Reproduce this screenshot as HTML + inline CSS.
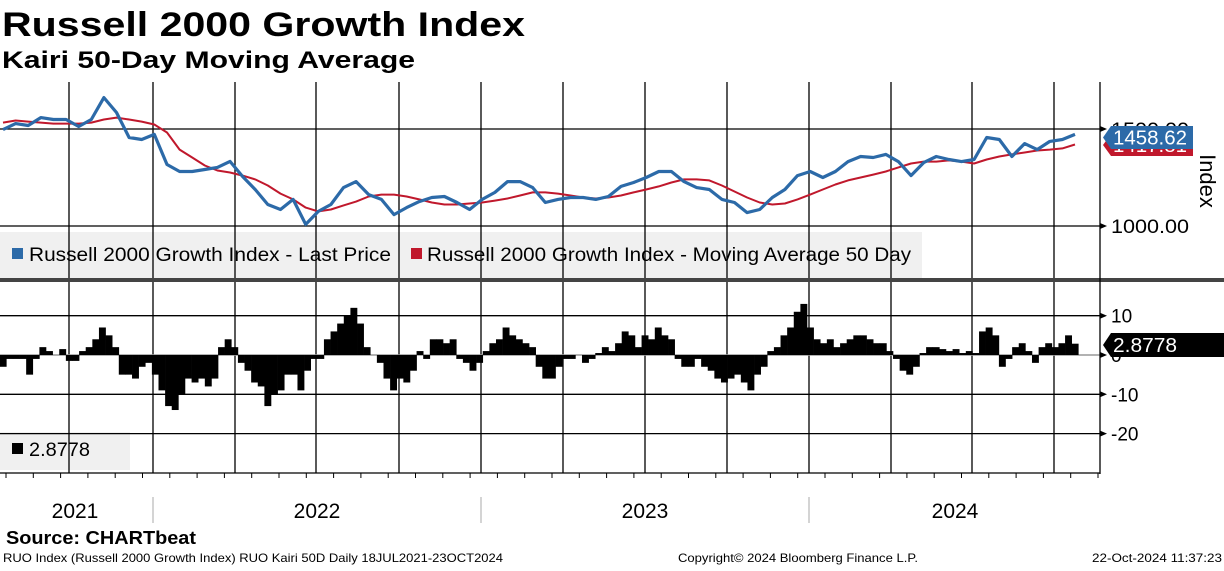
<!DOCTYPE html>
<html><head><meta charset="utf-8">
<style>
body{margin:0;background:#fff;width:1224px;height:566px;overflow:hidden;font-family:"Liberation Sans",sans-serif}
svg text{font-family:"Liberation Sans",sans-serif}
</style></head>
<body>
<svg id="c" width="1224" height="566" xmlns="http://www.w3.org/2000/svg">
<text x="2" y="36" font-size="34" font-weight="bold" textLength="523" lengthAdjust="spacingAndGlyphs">Russell 2000 Growth Index</text>
<text x="2" y="68" font-size="24" font-weight="bold" textLength="413" lengthAdjust="spacingAndGlyphs">Kairi 50-Day Moving Average</text>
<g id="grid"></g>
<g id="marks"></g>
<g id="axes"></g>
</svg>
<script>
const priceValues=[1497,1528,1518,1559,1549,1549,1513,1549,1662,1585,1456,1446,1472,1317,1281,1281,1291,1302,1333,1255,1188,1111,1085,1137,1008,1075,1111,1198,1229,1162,1137,1059,1095,1126,1147,1152,1121,1085,1137,1173,1229,1229,1198,1121,1137,1147,1147,1137,1152,1204,1224,1250,1281,1281,1229,1198,1188,1137,1121,1069,1085,1147,1188,1260,1281,1250,1281,1332,1358,1353,1369,1332,1260,1327,1358,1343,1332,1343,1456,1446,1358,1425,1394,1436,1446,1472];
const maValues=[1533,1544,1538,1533,1528,1528,1528,1533,1549,1559,1549,1538,1523,1482,1394,1353,1312,1286,1276,1260,1240,1209,1167,1137,1095,1075,1085,1106,1126,1152,1162,1162,1152,1137,1121,1111,1111,1116,1121,1131,1142,1157,1173,1173,1167,1157,1147,1142,1147,1157,1173,1188,1204,1224,1240,1240,1235,1209,1178,1147,1121,1111,1116,1137,1162,1188,1214,1235,1250,1265,1281,1302,1322,1332,1332,1338,1332,1322,1343,1358,1369,1379,1389,1394,1400,1420];
const kairiValues=[-3,-1,-1,-1,-5,-1,2,1,0,1.5,-1.5,-1.5,1,2,4,7,5,2,-5,-5,-6,-3,-2,-5,-9,-13,-14,-10,-6,-7,-6,-8,-6,2,4,2,-2,-4,-7,-8,-13,-10,-9,-5,-5,-9,-4,-1,-1,4,6,8,10,12,8,2,0,-2,-6,-9,-6,-7,-4,1,-1,4,4,3,4,-1,-2,-4,-2,1,3,4,7,5,4,3,2,-3,
-6,-6,-3,-1,-1,0,-2,-1,0.5,2,1,3,6,5,2,5,4,7,5,4,-1,-3,-3,-1,-3,-4,-6,-7,-6,-5,-7,-9,-5,-3,1,2,5,7,11,13,7,4,3,4,2,3,4,5,5,4,3,3,1,-1,-4,-5,-3,0.5,2,2,1.5,1,1.5,0.5,1,0.5,6,7,5,-3,-1,2,3,1,-2,2,3,2,3,5,2.8778];
const priceTicks=[1000,1500];
const kairiTicks=[10,0,-10,-20];
const yearLabels=["2021","2022","2023","2024"];

const NS="http://www.w3.org/2000/svg";
const X0=3,X1=1075;
const yP=v=>226-(v-1000)*0.194;
const yK=v=>355-v*3.93;
function el(t,a,p){const e=document.createElementNS(NS,t);for(const k in a)e.setAttribute(k,a[k]);p.appendChild(e);return e;}
const G=document.getElementById('grid'),M=document.getElementById('marks'),A=document.getElementById('axes');

let lb=el('rect',{x:0,y:232,width:922,height:46,fill:'#f0f0f0'},G);


let lb2=el('rect',{x:0,y:432,width:130,height:38,fill:'#f0f0f0'},G);



[69,153,235,316,399,481,563,645,727,809,891,972,1054].forEach(x=>{
  const l=el('line',{x1:x,x2:x,y1:82,y2:473,stroke:'#000','stroke-width':1.3},G);
  
  
});
priceTicks.forEach(v=>{
  const l=el('line',{x1:0,x2:1100,y1:yP(v),y2:yP(v),stroke:'#000','stroke-width':1.3},G);
  
  
});
kairiTicks.forEach(v=>{
  const l=el('line',{x1:0,x2:1100,y1:yK(v),y2:yK(v),stroke:v===0?'#999':'#000','stroke-width':v===0?1.5:1.3},G);
  
  
});

const kStep=(X1-X0)/(kairiValues.length-1);
kairiValues.forEach((v,i)=>{
  const x=X0+i*kStep, y0=yK(0), y1=yK(v);
  const r=el('rect',{x:x-kStep/2,y:Math.min(y0,y1),width:kStep+0.3,height:Math.abs(y1-y0),fill:'#000'},M);
  
  
});

function line(vals,color,w,name){
  const st=(X1-X0)/(vals.length-1);
  const d=vals.map((v,i)=>(i?'L':'M')+(X0+i*st).toFixed(1)+' '+yP(v).toFixed(1)).join(' ');
  const p=el('path',{d:d,fill:'none',stroke:color,'stroke-width':w,'stroke-linejoin':'round'},M);
  
  
}
line(maValues,'#c0182c',2,'moving-average-line');
line(priceValues,'#2c6aa8',3.2,'last-price-line');

let t;
t=el('rect',{x:12,y:248,width:11,height:11,fill:'#2c6aa8'},A);

t=el('text',{x:29,y:261,'font-size':19,textLength:362,lengthAdjust:'spacingAndGlyphs'},A);t.textContent='Russell 2000 Growth Index - Last Price';

t=el('rect',{x:411,y:248,width:11,height:11,fill:'#c0182c'},A);

t=el('text',{x:427,y:261,'font-size':19,textLength:484,lengthAdjust:'spacingAndGlyphs'},A);t.textContent='Russell 2000 Growth Index - Moving Average 50 Day';

t=el('rect',{x:12,y:443,width:11,height:11,fill:'#000'},A);

t=el('text',{x:29,y:456,'font-size':19,textLength:61,lengthAdjust:'spacingAndGlyphs'},A);t.textContent='2.8778';


t=el('rect',{x:0,y:278,width:1224,height:4,fill:'#444'},A);


t=el('line',{x1:1100,x2:1100,y1:82,y2:474,stroke:'#000','stroke-width':1.3},A);

t=el('line',{x1:0,x2:1100,y1:473,y2:473,stroke:'#000','stroke-width':1.3},A);

for(let x=6;x<1100;x+=27.3){const l=el('line',{x1:x,x2:x,y1:473,y2:478,stroke:'#000'},A);
}
priceTicks.forEach(v=>{
  const p=el('path',{d:`M1100 ${yP(v)-3} L1107 ${yP(v)} L1100 ${yP(v)+3}Z`,fill:'#000'},A);
  
  const tx=el('text',{x:1111,y:yP(v)+7,'font-size':19,textLength:78,lengthAdjust:'spacingAndGlyphs'},A);tx.textContent=v.toFixed(2);
  
});
kairiTicks.forEach(v=>{
  const p=el('path',{d:`M1100 ${yK(v)-3} L1107 ${yK(v)} L1100 ${yK(v)+3}Z`,fill:'#000'},A);
  
  const tx=el('text',{x:1111,y:yK(v)+7,'font-size':19},A);tx.textContent=String(v);
  
});
t=el('text',{x:1200,y:181,'font-size':22,transform:'rotate(90 1200 181)','text-anchor':'middle'},A);t.textContent='Index';


function tag(y,w,h,fill,txt,name,fs){
  const g=el('g',{},A);
  
  el('path',{d:`M1103 ${y+h/2} L1111 ${y} L${1103+w} ${y} L${1103+w} ${y+h} L1111 ${y+h}Z`,fill:fill},g);
  const tx=el('text',{x:1113,y:y+h/2+7,'font-size':fs,fill:'#fff',textLength:w-16,lengthAdjust:'spacingAndGlyphs'},g);tx.textContent=txt;
}
tag(134,90,22,'#c0182c','1417.81','ma-value-tag',19);
tag(126,90,23,'#2c6aa8','1458.62','price-value-tag',20);
tag(333,121,24,'#000','2.8778','kairi-value-tag',20);
A.lastChild.querySelector('text').setAttribute('textLength','64');

[153,481,809].forEach(x=>{const l=el('line',{x1:x,x2:x,y1:497,y2:523,stroke:'#aaa'},A);
});
[75,317,645,955].forEach((x,i)=>{const tx=el('text',{x:x,y:518,'font-size':21,'text-anchor':'middle'},A);
tx.textContent=yearLabels[i];
});

t=el('text',{x:6,y:544,'font-size':18,'font-weight':'bold',textLength:190,lengthAdjust:'spacingAndGlyphs'},A);t.textContent='Source: CHARTbeat';

t=el('text',{x:3,y:562,'font-size':12,textLength:500,lengthAdjust:'spacingAndGlyphs'},A);t.textContent='RUO Index (Russell 2000 Growth Index) RUO Kairi 50D  Daily 18JUL2021-23OCT2024';

t=el('text',{x:678,y:562,'font-size':12,textLength:240,lengthAdjust:'spacingAndGlyphs'},A);t.textContent='Copyright© 2024 Bloomberg Finance L.P.';

t=el('text',{x:1092,y:562,'font-size':12,textLength:130,lengthAdjust:'spacingAndGlyphs'},A);t.textContent='22-Oct-2024 11:37:23';

</script>
</body></html>
